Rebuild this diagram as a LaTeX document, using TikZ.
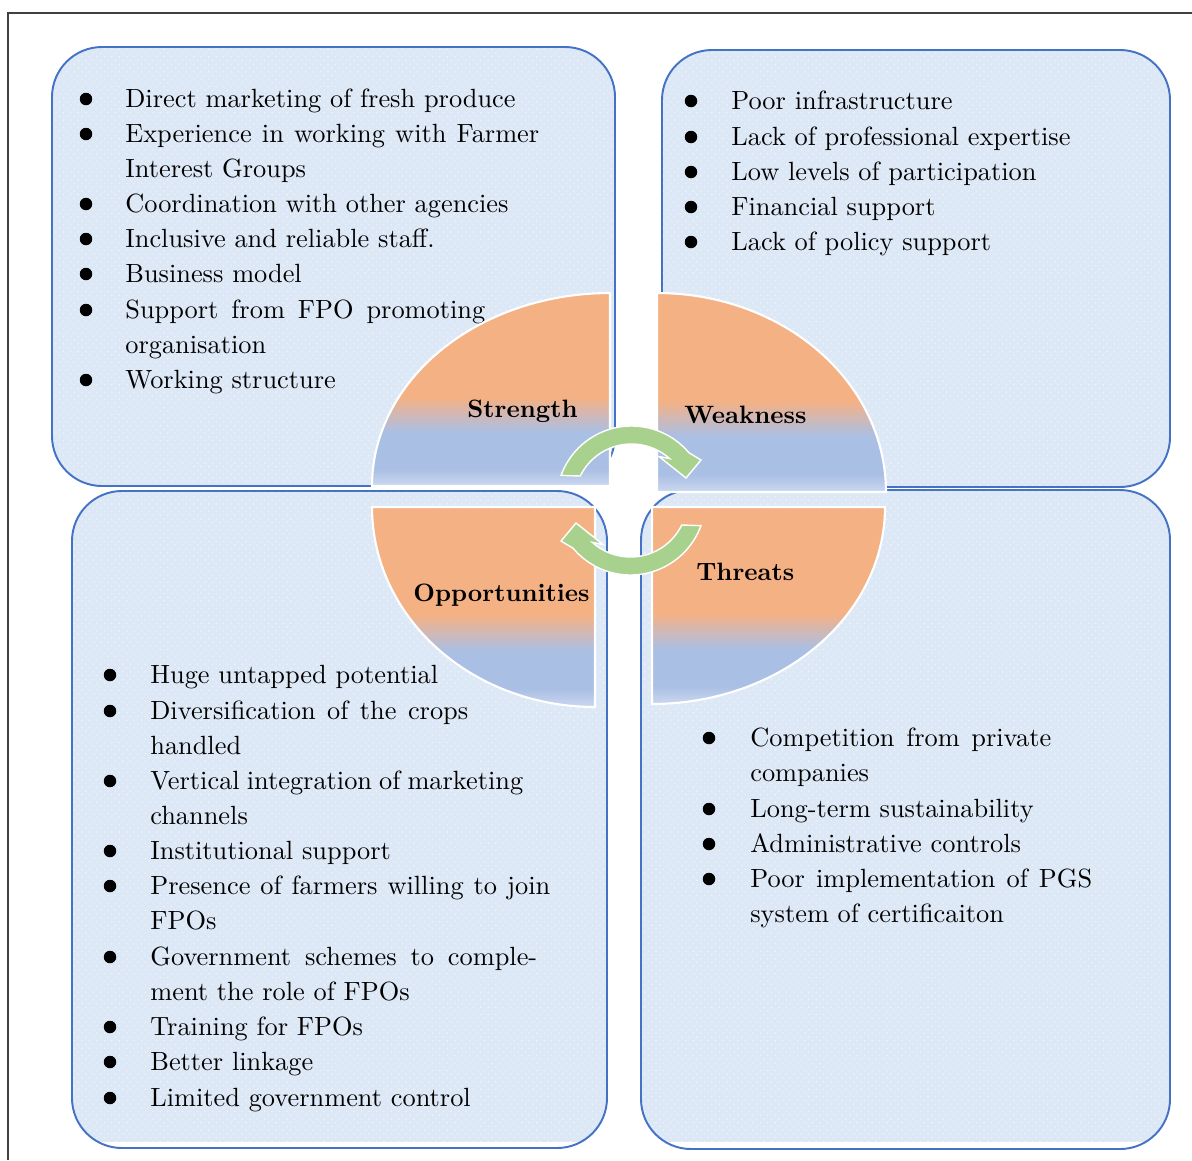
\documentclass[tikz,border=0pt]{standalone}
\usepackage{fontspec}
\setmainfont{lmroman10-regular}[Extension=.otf, BoldFont=lmroman10-bold]
\usetikzlibrary{patterns.meta}

\definecolor{boxfill}{RGB}{221,232,246}
\definecolor{boxline}{RGB}{68,114,196}
\definecolor{pieorange}{RGB}{244,177,131}
\definecolor{pieblue}{RGB}{170,191,228}
\definecolor{piebluelight}{RGB}{203,216,240}
\definecolor{piemid}{RGB}{208,184,182}
\definecolor{arrowgreen}{RGB}{169,209,142}
\definecolor{framegray}{RGB}{64,64,64}

% orange on top fading to blue at the bottom of each quarter
% (the path's box is mapped onto the 25bp--75bp band of the shading)
\pgfdeclareverticalshading{swotfill}{100bp}{%
  color(0bp)=(piebluelight); color(25bp)=(piebluelight); color(29.5bp)=(pieblue);
  color(39bp)=(pieblue); color(43.5bp)=(piemid); color(48bp)=(pieorange);
  color(75bp)=(pieorange); color(100bp)=(pieorange)}

% a justified line of a wrapped bullet item
\newcommand\jline[2]{\makebox[#1][s]{#2}}

\begin{document}
\begin{tikzpicture}[x=0.02cm, y=-0.02cm,
  body/.style={anchor=base west, inner sep=0pt, font=\fontsize{15}{18}\selectfont},
  quadlabel/.style={anchor=base west, inner sep=0pt, font=\fontsize{14.3}{17}\selectfont\bfseries},
  bulletdot/.style={fill=black},
  panel/.style={preaction={fill=boxfill}, pattern={Dots[distance=3pt, radius=0.45pt, angle=45]},
    pattern color=white!55!boxfill, rounded corners=1cm},
  panelrim/.style={draw=boxline, line width=1.1pt, rounded corners=1cm},
  quarter/.style={shading=swotfill, draw=white, line width=1.2pt},
  cyclearrow/.style={fill=arrowgreen, draw=white, line width=0.8pt, line join=miter}]

\useasboundingbox (0,0) rectangle (1192,1160);

% outer frame
\draw[framegray, line width=1pt] (1192,13) -- (8,13) -- (8,1160);

% ---- four panels ----
\path[panel] (52,47) rectangle (615,486);
\draw[panelrim] (52,47) rectangle (615,486);
\path[panel] (662,50) rectangle (1170,487);
\draw[panelrim] (662,50) rectangle (1170,487);

\path[panel] (72,491) rectangle (607,1148);
\begin{scope}
  \clip[rounded corners=1cm] (72,491) rectangle (607,1148);
  \fill[white] (60,1142) rectangle (620,1146.5);
\end{scope}
\draw[panelrim] (72,491) rectangle (607,1148);

\path[panel] (641,490) rectangle (1170,1149);
\begin{scope}
  \clip[rounded corners=1cm] (641,490) rectangle (1170,1149);
  \fill[white] (630,1142) rectangle (1180,1147.5);
\end{scope}
\draw[panelrim] (641,490) rectangle (1170,1149);

% ---- strengths ----
\foreach \yy in {99,134,204,239,274,310,380}
  \fill[bulletdot] (86,\yy) circle[radius=0.125cm];
\node[body] (s1) at (125,107) {Direct marketing of fresh produce};
\node[body] (s2) at (125,142) {\jline{8.28cm}{Experience in working with Farmer}};
\node[body] (s3) at (125,177) {Interest Groups};
\node[body] (s4) at (125,212) {Coordination with other agencies};
\node[body] (s5) at (125,247) {Inclusive and reliable staff.};
\node[body] (s6) at (125,282) {Business model};
\node[body] (s7) at (125,318) {\jline{7.2cm}{Support from FPO promoting}};
\node[body] (s8) at (125,353) {organisation};
\node[body] (s9) at (125,388) {Working structure};

% ---- weaknesses ----
\foreach \yy in {101,137,172,207,242}
  \fill[bulletdot] (691,\yy) circle[radius=0.125cm];
\node[body] (w1) at (731,109) {Poor infrastructure};
\node[body] (w2) at (731,145) {Lack of professional expertise};
\node[body] (w3) at (731,180) {Low levels of participation};
\node[body] (w4) at (731,215) {Financial support};
\node[body] (w5) at (731,250) {Lack of policy support};

% ---- opportunities ----
\foreach \yy in {675,711,781,851,886,957,1027,1062,1098}
  \fill[bulletdot] (110,\yy) circle[radius=0.125cm];
\node[body] (o1) at (150,683) {Huge untapped potential};
\node[body] (o2) at (150,719) {\jline{6.36cm}{Diversification of the crops}};
\node[body] (o3) at (150,754) {handled};
\node[body] (o4) at (150,789) {\jline{7.46cm}{Vertical integration of marketing}};
\node[body] (o5) at (150,824) {channels};
\node[body] (o6) at (150,859) {Institutional support};
\node[body] (o7) at (150,894) {\jline{8.0cm}{Presence of farmers willing to join}};
\node[body] (o8) at (150,929) {FPOs};
\node[body] (o9) at (150,965) {\jline{7.74cm}{Government schemes to comple-}};
\node[body] (o10) at (150,1000) {ment the role of FPOs};
\node[body] (o11) at (150,1035) {Training for FPOs};
\node[body] (o12) at (150,1070) {Better linkage};
\node[body] (o13) at (150,1106) {Limited government control};

% ---- threats ----
\foreach \yy in {738,809,844,879}
  \fill[bulletdot] (709,\yy) circle[radius=0.125cm];
\node[body] (r1) at (750,746) {\jline{6.02cm}{Competition from private}};
\node[body] (r2) at (750,781) {companies};
\node[body] (r3) at (750,817) {Long-term sustainability};
\node[body] (r4) at (750,852) {Administrative controls};
\node[body] (r5) at (750,887) {\jline{6.84cm}{Poor implementation of PGS}};
\node[body] (r6) at (750,922) {system of certificaiton};

% ---- central quarter ellipses ----
\path[quarter] (610,486) -- plot[domain=180:90, samples=60] ({610+238*cos(\x)},{486-193*sin(\x)}) -- cycle;
\path[quarter] (657,492) -- plot[domain=90:0, samples=60] ({657+229*cos(\x)},{492-199*sin(\x)}) -- cycle;
\path[quarter] (595,507) -- plot[domain=180:270, samples=60] ({595+223*cos(\x)},{507-200*sin(\x)}) -- cycle;
\path[quarter] (652,507) -- plot[domain=270:360, samples=60] ({652+233*cos(\x)},{507-197*sin(\x)}) -- cycle;

\node[quadlabel] (lS) at (467,417) {Strength};
\node[quadlabel] (lW) at (684,423) {Weakness};
\node[quadlabel] (lO) at (413,601) {Opportunities};
\node[quadlabel] (lT) at (696,580) {Threats};

% ---- cycle arrows: two arcs of one ring round the centre ----
\path[cyclearrow]
  plot[domain=160:40, samples=50] ({631.5+75*cos(\x)},{501-75*sin(\x)})
  -- (701,460) -- (686,478) -- (659,456.5)
  -- plot[domain=48:154, samples=50] ({631.5+57*cos(\x)},{501-57*sin(\x)}) -- cycle;
\path[cyclearrow, rotate around={180:(631,500.5)}]
  plot[domain=160:40, samples=50] ({631.5+75*cos(\x)},{501-75*sin(\x)})
  -- (701,460) -- (686,478) -- (659,456.5)
  -- plot[domain=48:154, samples=50] ({631.5+57*cos(\x)},{501-57*sin(\x)}) -- cycle;

\end{tikzpicture}
\end{document}
